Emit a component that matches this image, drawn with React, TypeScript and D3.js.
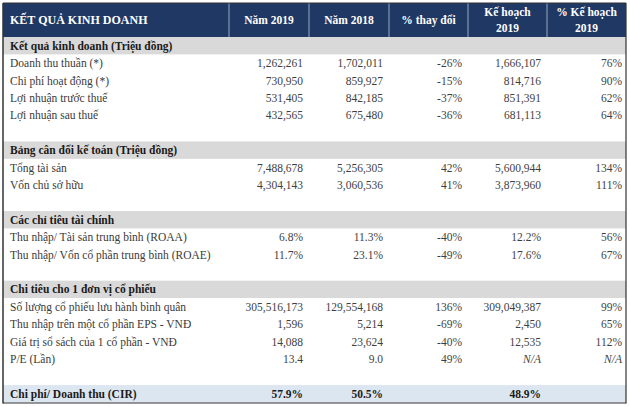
import React from "react";
import * as d3 from "d3";

const headers = ["KẾT QUẢ KINH DOANH", "Năm 2019", "Năm 2018", "% thay đổi", "Kế hoạch|2019", "% Kế hoạch|2019"];

const sectionTitles = [
  "Kết quả kinh doanh (Triệu đồng)",
  "Bảng cân đối kế toán (Triệu đồng)",
  "Các chỉ tiêu tài chính",
  "Chi tiêu cho 1 đơn vị cổ phiếu",
];

const section1Rows = [
  ["Doanh thu thuần (*)", "1,262,261", "1,702,011", "-26%", "1,666,107", "76%"],
  ["Chi phí hoạt động (*)", "730,950", "859,927", "-15%", "814,716", "90%"],
  ["Lợi nhuận trước thuế", "531,405", "842,185", "-37%", "851,391", "62%"],
  ["Lợi nhuận sau thuế", "432,565", "675,480", "-36%", "681,113", "64%"],
];
const section2Rows = [
  ["Tổng tài sản", "7,488,678", "5,256,305", "42%", "5,600,944", "134%"],
  ["Vốn chủ sở hữu", "4,304,143", "3,060,536", "41%", "3,873,960", "111%"],
];
const section3Rows = [
  ["Thu nhập/ Tài sản trung bình (ROAA)", "6.8%", "11.3%", "-40%", "12.2%", "56%"],
  ["Thu nhập/ Vốn cổ phần trung bình (ROAE)", "11.7%", "23.1%", "-49%", "17.6%", "67%"],
];
const section4Rows = [
  ["Số lượng cổ phiếu lưu hành bình quân", "305,516,173", "129,554,168", "136%", "309,049,387", "99%"],
  ["Thu nhập trên một cổ phần EPS - VNĐ", "1,596", "5,214", "-69%", "2,450", "65%"],
  ["Giá trị sổ sách của 1 cổ phần - VNĐ", "14,088", "23,624", "-40%", "12,535", "112%"],
  ["P/E (Lần)", "13.4", "9.0", "49%", "N/A", "N/A"],
];
const cirRow = ["Chi phí/ Doanh thu (CIR)", "57.9%", "50.5%", "", "48.9%", ""];

const sectionRows = [section1Rows, section2Rows, section3Rows, section4Rows];

type Row = { kind: "section" | "data" | "blank" | "cir"; cells: string[] };

const rows: Row[] = [];
sectionRows.forEach((sr, i) => {
  rows.push({ kind: "section", cells: [sectionTitles[i]] });
  sr.forEach((r) => rows.push({ kind: "data", cells: r }));
  rows.push({ kind: "blank", cells: [] });
});
rows.push({ kind: "cir", cells: cirRow });

const W = 630;
const H = 407;
const colEdges = [3, 229, 309, 389, 468, 547, 626];
const headerTop = 3;
const headerBottom = 37;
const bodyBottom = 402.5;

export default function App() {
  const y = d3
    .scaleBand<number>()
    .domain(d3.range(rows.length))
    .range([headerBottom, bodyBottom])
    .paddingInner(0)
    .paddingOuter(0);
  const rh = y.bandwidth();
  const font = "'Liberation Serif', 'Times New Roman', serif";
  const fs = 11.5;
  const left = colEdges[0];
  const right = colEdges[colEdges.length - 1];

  return (
    <svg
      width={W}
      height={H}
      style={{ position: "absolute", left: 0, top: 0, background: "#fff" }}
      fontFamily={font}
      fontSize={fs}
    >
      {/* header */}
      <rect x={left} y={headerTop} width={right - left} height={headerBottom - headerTop} fill="#1f3864" />
      {colEdges.slice(1, -1).map((x, i) => (
        <line key={i} x1={x} x2={x} y1={headerTop} y2={headerBottom} stroke="#9aa8c4" strokeWidth={1} />
      ))}
      {headers.map((h, i) => {
        const parts = h.split("|");
        const cx = i === 0 ? 10 : (colEdges[i] + colEdges[i + 1]) / 2;
        const mid = (headerTop + headerBottom) / 2;
        return (
          <text
            key={i}
            x={cx}
            textAnchor={i === 0 ? "start" : "middle"}
            fill="#fff"
            fontWeight="bold"
            fontSize={i === 0 ? 12 : fs}
          >
            {parts.length === 1 ? (
              <tspan x={cx} y={mid + 4}>{parts[0]}</tspan>
            ) : (
              parts.map((p, j) => (
                <tspan key={j} x={cx} y={mid - 4 + j * 16}>{p}</tspan>
              ))
            )}
          </text>
        );
      })}
      {/* body */}
      {rows.map((r, i) => {
        const y0 = y(i)!;
        const base = y0 + rh / 2 + 4;
        if (r.kind === "blank") return null;
        if (r.kind === "section") {
          return (
            <g key={i}>
              <rect x={left} y={y0} width={right - left} height={rh} fill="#d9d9d9" />
              <text x={10} y={base} fontWeight="bold" fill="#1a1a1a">{r.cells[0]}</text>
            </g>
          );
        }
        const bold = r.kind === "cir";
        return (
          <g key={i}>
            {bold && <rect x={left} y={y0} width={right - left} height={rh} fill="#dce6f1" />}
            {r.cells.map((c, j) => {
              if (!c) return null;
              if (j === 0) {
                return (
                  <text key={j} x={10} y={base} fill={bold ? "#1a1a1a" : "#3a3a3a"} fontWeight={bold ? "bold" : "normal"}>
                    {c}
                  </text>
                );
              }
              const xr = colEdges[j + 1] - (j === 5 ? 4 : 6);
              return (
                <text
                  key={j}
                  x={xr}
                  y={base}
                  textAnchor="end"
                  fill={bold ? "#1a1a1a" : "#3f3f3f"}
                  fontWeight={bold ? "bold" : "normal"}
                  fontStyle={c === "N/A" ? "italic" : "normal"}
                >
                  {c}
                </text>
              );
            })}
          </g>
        );
      })}
      {/* borders */}
      <line x1={left} x2={left} y1={headerTop} y2={bodyBottom + 1} stroke="#333" strokeWidth={1.5} />
      <line x1={right} x2={right} y1={headerTop} y2={bodyBottom + 1} stroke="#333" strokeWidth={1.2} />
      <line x1={left} x2={right} y1={headerTop} y2={headerTop} stroke="#333" strokeWidth={1} />
      <line x1={left} x2={right} y1={bodyBottom + 0.5} y2={bodyBottom + 0.5} stroke="#333" strokeWidth={1.2} />
    </svg>
  );
}
